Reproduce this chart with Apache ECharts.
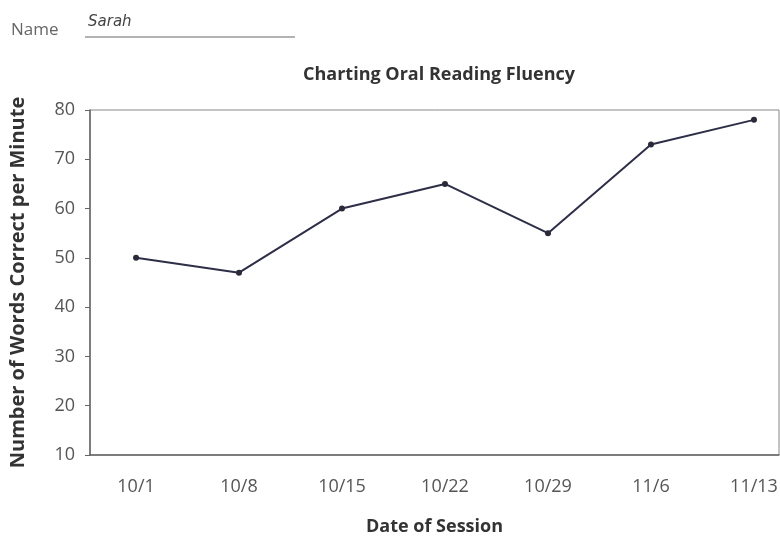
<!DOCTYPE html>
<html>
<head>
<meta charset="utf-8">
<script src="https://cdn.jsdelivr.net/npm/echarts@6/dist/echarts.min.js"></script>
<style>
  html, body { margin: 0; padding: 0; background: #fff; }
  #chart { width: 780px; height: 538px; }
</style>
</head>
<body>
<div id="chart"></div>
<script>
// Session dates and words-correct-per-minute scores
const sessionDates = ['10/1', '10/8', '10/15', '10/22', '10/29', '11/6', '11/13'];
const wordsCorrect = [50, 47, 60, 65, 55, 73, 78];
const yTicks = [10, 20, 30, 40, 50, 60, 70, 80];

const FONT = '"Open Sans", "Noto Sans", sans-serif';

const chart = echarts.init(document.getElementById('chart'), null, { renderer: 'canvas' });

chart.setOption({
  animation: false,
  backgroundColor: '#fff',
  title: {
    text: 'Charting Oral Reading Fluency',
    left: 434,
    textAlign: 'center',
    top: 61,
    textStyle: { fontFamily: FONT, fontSize: 18, fontWeight: 'bold', color: '#333' }
  },
  graphic: [
    {
      type: 'text', left: 11, top: 22,
      style: { text: 'Name', fontFamily: FONT, fontSize: 17, fill: '#666' }
    },
    {
      type: 'text', left: 88, top: 15,
      style: { text: 'Sarah', fontFamily: '"DejaVu Sans", sans-serif', fontStyle: 'italic', fontSize: 15, fill: '#444' }
    },
    {
      type: 'line',
      shape: { x1: 85, y1: 37, x2: 295, y2: 37 },
      style: { stroke: '#666', lineWidth: 1 }
    }
  ],
  grid: {
    left: 90, top: 110, right: 1, bottom: 83,
    outerBoundsMode: 'none',
    containLabel: false,
    show: true, borderColor: '#888', borderWidth: 1, backgroundColor: 'transparent'
  },
  xAxis: {
    type: 'value',
    min: -0.447,
    max: 6.243,
    name: 'Date of Session',
    nameLocation: 'middle',
    nameGap: 63,
    nameTextStyle: { fontFamily: FONT, fontSize: 18, fontWeight: 'bold', color: '#333' },
    axisLine: { show: true, onZero: false, lineStyle: { color: '#666', width: 1.5 } },
    axisTick: { show: false },
    splitLine: { show: false },
    axisLabel: {
      customValues: sessionDates.map((_, i) => i),
      formatter: v => sessionDates[Math.round(v)],
      margin: 23,
      fontFamily: FONT,
      fontSize: 18,
      color: '#555'
    }
  },
  yAxis: {
    type: 'value',
    min: 10,
    max: 80,
    interval: 10,
    name: 'Number of Words Correct per Minute',
    nameLocation: 'middle',
    nameGap: 62,
    nameTextStyle: { fontFamily: FONT, fontSize: 20, fontWeight: 'bold', color: '#333' },
    axisLine: { show: true, onZero: false, lineStyle: { color: '#666', width: 1.5 } },
    axisTick: { show: true, length: 5, inside: false, lineStyle: { color: '#666' } },
    splitLine: { show: false },
    axisLabel: {
      customValues: yTicks,
      margin: 15,
      fontFamily: FONT,
      fontSize: 18,
      color: '#555'
    }
  },
  series: [{
    type: 'line',
    data: wordsCorrect.map((v, i) => [i, v]),
    symbol: 'circle',
    symbolSize: 6,
    lineStyle: { color: '#2e2e48', width: 2 },
    itemStyle: { color: '#2a2a3a' }
  }]
});
</script>
</body>
</html>
